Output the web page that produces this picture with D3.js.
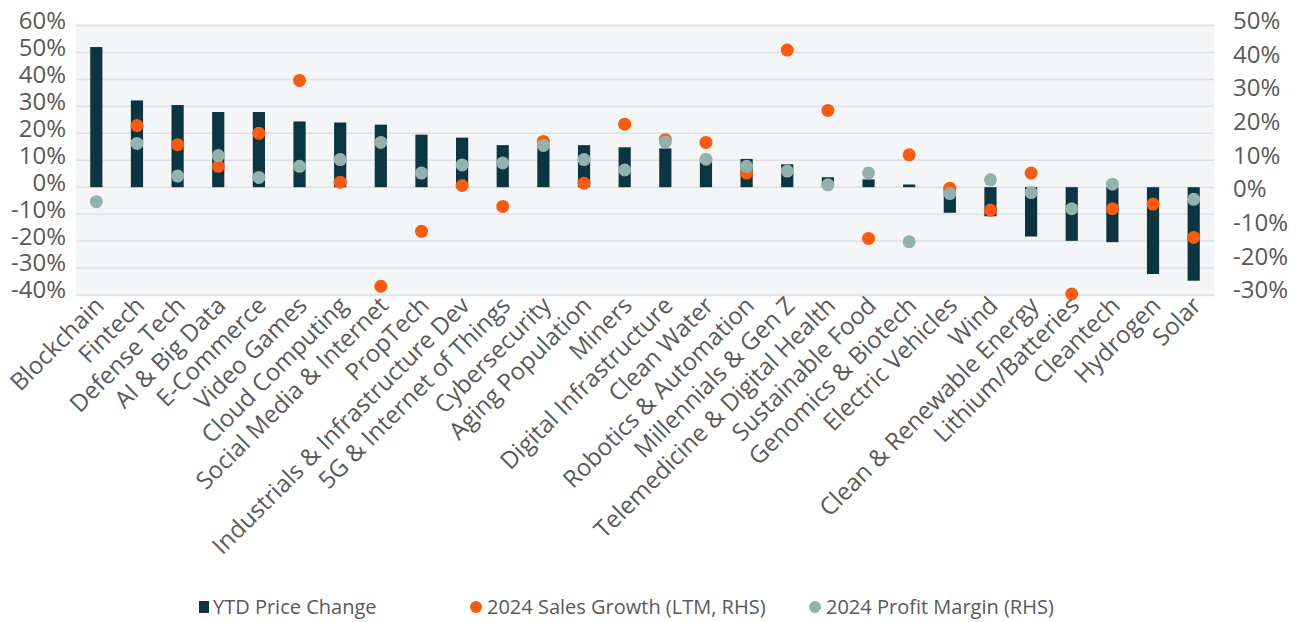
<!DOCTYPE html>
<html>
<head>
<meta charset="utf-8">
<script src="https://cdn.jsdelivr.net/npm/d3@7"></script>
<style>
  body { margin: 0; background: #fff; }
  svg text { font-family: "Open Sans", sans-serif; fill: #595959; }
</style>
</head>
<body>
<div id="chart"></div>
<script>
const categories = ['Blockchain', 'Fintech', 'Defense Tech', 'AI & Big Data', 'E-Commerce',
  'Video Games', 'Cloud Computing', 'Social Media & Internet', 'PropTech',
  'Industrials & Infrastructure Dev', '5G & Internet of Things', 'Cybersecurity',
  'Aging Population', 'Miners', 'Digital Infrastructure', 'Clean Water',
  'Robotics & Automation', 'Millennials & Gen Z', 'Telemedicine & Digital Health',
  'Sustainable Food', 'Genomics & Biotech', 'Electric Vehicles', 'Wind',
  'Clean & Renewable Energy', 'Lithium/Batteries', 'Cleantech', 'Hydrogen', 'Solar'];

// YTD price change (left axis, %)
const ytdPrice = [52.0, 32.2, 30.5, 27.9, 27.9, 24.4, 24.0, 23.2, 19.5, 18.4, 15.6, 16.0,
  15.6, 14.8, 14.4, 10.3, 10.5, 8.5, 3.7, 2.9, 1.0, -9.5, -10.8, -18.3, -19.9, -20.4, -32.2, -34.7];

// 2024 sales growth, LTM (right axis, %)
const salesGrowth = [null, 20.3, 14.6, 8.2, 18.0, 33.7, 3.5, -27.4, -11.1, 2.5, -3.7, 15.6,
  3.2, 20.7, 16.1, 15.3, 6.2, 42.7, 24.8, -13.2, 11.6, 1.7, -4.8, 6.2, -29.7, -4.4, -3.0, -12.9];

// 2024 profit margin (right axis, %)
const profitMargin = [-2.3, 15.0, 5.3, 11.4, 4.9, 8.2, 10.2, 15.3, 6.2, 8.6, 9.2, 14.4,
  10.2, 7.1, 15.4, 10.3, 8.2, 6.8, 2.7, 6.2, -14.2, 0.1, 4.2, 0.4, -4.4, 2.9, null, -1.6];

const leftTicks = [60, 50, 40, 30, 20, 10, 0, -10, -20, -30, -40];
const rightTicks = [50, 40, 30, 20, 10, 0, -10, -20, -30];

const width = 1297;
const height = 622;
const plotLeft = 76, plotRight = 1214, plotTop = 25.5, plotBottom = 295;

const barColor = '#0b3540';
const orange = '#fa5b0f';
const teal = '#92b2b0';

const svg = d3.select('#chart')
  .append('svg')
  .attr('width', width)
  .attr('height', height);

// Scales
const x = d3.scaleBand()
  .domain(categories)
  .range([plotLeft, plotRight])
  .paddingInner(0.7)
  .paddingOuter(0.35);

const yLeft = d3.scaleLinear().domain([-40, 60]).range([plotBottom, plotTop]);
const yRight = d3.scaleLinear().domain([-30, 50]).range([plotBottom, plotTop]);

// Plot background
svg.append('rect')
  .attr('x', plotLeft)
  .attr('y', plotTop - 1.5)
  .attr('width', plotRight - plotLeft)
  .attr('height', plotBottom - plotTop + 3)
  .attr('fill', '#f4f5f7');

// Gridlines
svg.append('g')
  .selectAll('line')
  .data(leftTicks)
  .enter()
  .append('line')
  .attr('x1', plotLeft)
  .attr('x2', plotRight)
  .attr('y1', d => yLeft(d))
  .attr('y2', d => yLeft(d))
  .attr('stroke', '#dcdfe3')
  .attr('stroke-width', 1.5);

// Left axis labels
svg.append('g')
  .selectAll('text')
  .data(leftTicks)
  .enter()
  .append('text')
  .text(d => d + '%')
  .attr('x', 66)
  .attr('y', d => yLeft(d) - 5)
  .attr('dy', '0.35em')
  .attr('text-anchor', 'end')
  .attr('font-size', '24px');

// Right axis labels
svg.append('g')
  .selectAll('text')
  .data(rightTicks)
  .enter()
  .append('text')
  .text(d => d + '%')
  .attr('x', 1233)
  .attr('y', d => yRight(d) - 5)
  .attr('dy', '0.35em')
  .attr('text-anchor', 'start')
  .attr('font-size', '24px');

// Bars
svg.append('g')
  .selectAll('rect')
  .data(ytdPrice)
  .enter()
  .append('rect')
  .attr('x', (d, i) => x(categories[i]))
  .attr('y', d => Math.min(yLeft(d), yLeft(0)))
  .attr('width', x.bandwidth())
  .attr('height', d => Math.abs(yLeft(d) - yLeft(0)))
  .attr('fill', barColor);

// Sales growth dots
svg.append('g')
  .selectAll('circle')
  .data(salesGrowth.map((v, i) => ({ v, c: categories[i] })).filter(d => d.v !== null))
  .enter()
  .append('circle')
  .attr('cx', d => x(d.c) + x.bandwidth() / 2)
  .attr('cy', d => yRight(d.v))
  .attr('r', 6.5)
  .attr('fill', orange);

// Profit margin dots
svg.append('g')
  .selectAll('circle')
  .data(profitMargin.map((v, i) => ({ v, c: categories[i] })).filter(d => d.v !== null))
  .enter()
  .append('circle')
  .attr('cx', d => x(d.c) + x.bandwidth() / 2)
  .attr('cy', d => yRight(d.v))
  .attr('r', 6.5)
  .attr('fill', teal);

// Category labels, rotated
svg.append('g')
  .selectAll('text')
  .data(categories)
  .enter()
  .append('text')
  .text(d => d)
  .attr('transform', d => {
    const cx = x(d) + x.bandwidth() / 2 + 9;
    return 'translate(' + cx + ',' + 307 + ') rotate(-45)';
  })
  .attr('text-anchor', 'end')
  .attr('font-size', '24px');

// Legend
const legend = svg.append('g').attr('transform', 'translate(0,607)');

legend.append('rect')
  .attr('x', 199).attr('y', -6)
  .attr('width', 10).attr('height', 12)
  .attr('fill', barColor);
legend.append('text')
  .text('YTD Price Change')
  .attr('x', 213).attr('dy', '0.35em')
  .attr('font-size', '20px');

legend.append('circle')
  .attr('cx', 476).attr('r', 6)
  .attr('fill', orange);
legend.append('text')
  .text('2024 Sales Growth (LTM, RHS)')
  .attr('x', 487).attr('dy', '0.35em')
  .attr('font-size', '20px');

legend.append('circle')
  .attr('cx', 815).attr('r', 6)
  .attr('fill', teal);
legend.append('text')
  .text('2024 Profit Margin (RHS)')
  .attr('x', 826).attr('dy', '0.35em')
  .attr('font-size', '20px');
</script>
</body>
</html>
